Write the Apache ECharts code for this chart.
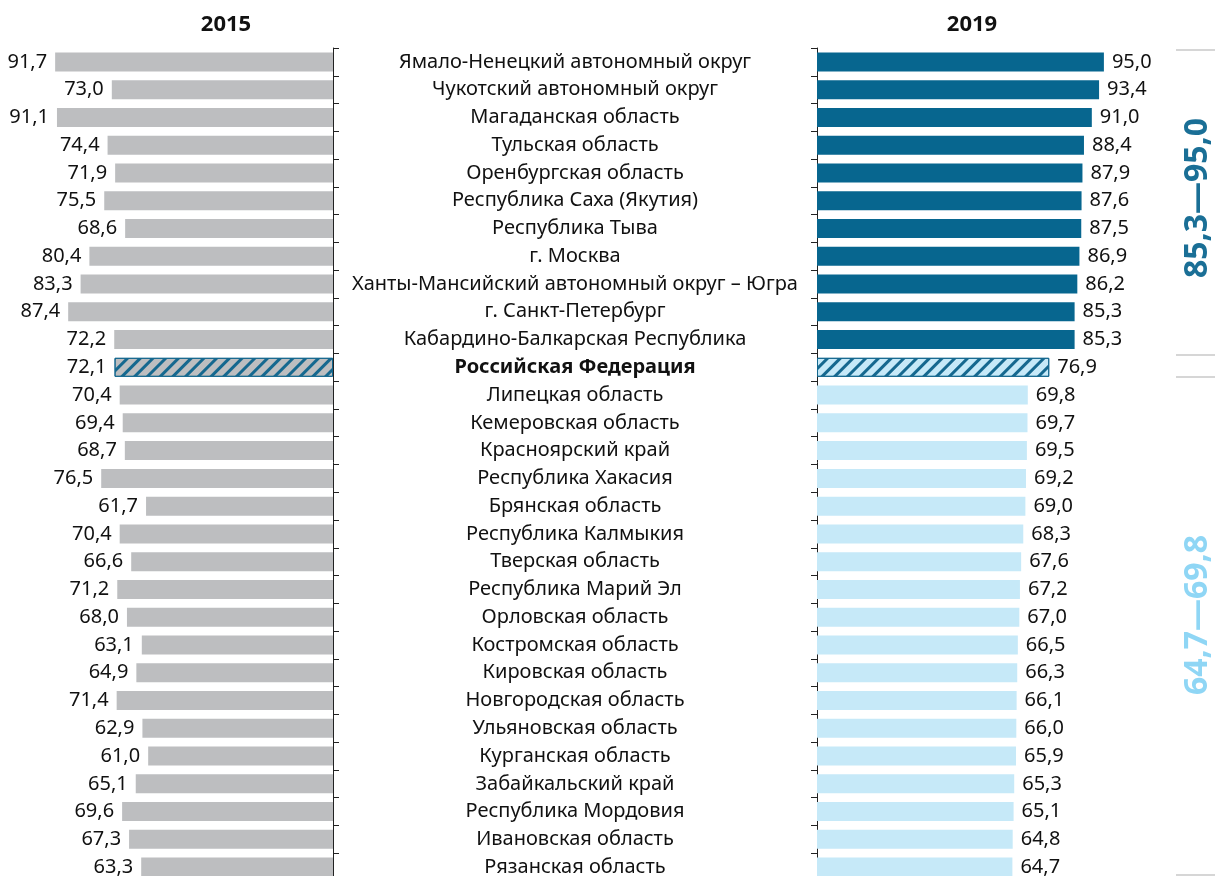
<!DOCTYPE html>
<html><head><meta charset="utf-8">
<script src="https://cdn.jsdelivr.net/npm/echarts@6/dist/echarts.min.js"></script>
<style>html,body{margin:0;padding:0;background:#fff}#c{width:1215px;height:876px}</style>
</head><body><div id="c"></div>
<script>
const regions = ["Ямало-Ненецкий автономный округ","Чукотский автономный округ","Магаданская область","Тульская область","Оренбургская область","Республика Саха (Якутия)","Республика Тыва","г. Москва","Ханты-Мансийский автономный округ – Югра","г. Санкт-Петербург","Кабардино-Балкарская Республика","Российская Федерация","Липецкая область","Кемеровская область","Красноярский край","Республика Хакасия","Брянская область","Республика Калмыкия","Тверская область","Республика Марий Эл","Орловская область","Костромская область","Кировская область","Новгородская область","Ульяновская область","Курганская область","Забайкальский край","Республика Мордовия","Ивановская область","Рязанская область"];
const values2015 = [91.7,73.0,91.1,74.4,71.9,75.5,68.6,80.4,83.3,87.4,72.2,72.1,70.4,69.4,68.7,76.5,61.7,70.4,66.6,71.2,68.0,63.1,64.9,71.4,62.9,61.0,65.1,69.6,67.3,63.3];
const values2019 = [95.0,93.4,91.0,88.4,87.9,87.6,87.5,86.9,86.2,85.3,85.3,76.9,69.8,69.7,69.5,69.2,69.0,68.3,67.6,67.2,67.0,66.5,66.3,66.1,66.0,65.9,65.3,65.1,64.8,64.7];
const years = ["2015","2019"];
const rangeLabels = ["85,3—95,0","64,7—69,8"];
const totalName = "Российская Федерация";

const FONT = "Noto Sans";
const FS = 20;
const GRAY = "#bdbec0", DARK = "#07668f", LIGHT = "#c6e9f8", STRIPE = "#15688f";
const fmt = v => v.toFixed(1).replace('.', ',');
const decal = {symbol:'rect', symbolSize:1, dashArrayX:[1,0], dashArrayY:[3,6], rotation:-Math.PI/4, color:STRIPE};

const leftData = values2015.map((v,i)=> regions[i]===totalName
  ? {value:v, itemStyle:{color:GRAY, borderColor:STRIPE, borderWidth:1, decal:decal}}
  : {value:v});
const rightData = values2019.map((v,i)=>{
  if (regions[i]===totalName) return {value:v, itemStyle:{color:LIGHT, borderColor:STRIPE, borderWidth:1, decal:decal}};
  return {value:v, itemStyle:{color: i<regions.indexOf(totalName) ? DARK : LIGHT}};
});

const chart = echarts.init(document.getElementById('c'), null, {renderer:'canvas'});
const axisLine = {show:true, lineStyle:{color:'#222', width:1}};
const axisTick = {show:true, length:6, lineStyle:{color:'#222', width:1}};
chart.setOption({
  animation:false,
  aria:{enabled:false, decal:{show:false}},
  title:[
    {text:years[0], left:221, top:9, textAlign:'center', textStyle:{fontFamily:FONT, fontSize:22, fontWeight:'bold', color:'#111'}},
    {text:years[1], left:967, top:9, textAlign:'center', textStyle:{fontFamily:FONT, fontSize:22, fontWeight:'bold', color:'#111'}}
  ],
  grid:[
    {left:30, width:303, top:48, height:833, outerBoundsMode:'none', containLabel:false},
    {left:817, width:302, top:48, height:833, outerBoundsMode:'none', containLabel:false}
  ],
  xAxis:[
    {gridIndex:0, type:'value', min:0, max:100, inverse:true, show:false},
    {gridIndex:1, type:'value', min:0, max:100, show:false}
  ],
  yAxis:[
    {gridIndex:0, type:'category', data:regions, inverse:true, position:'right',
     axisLine:axisLine, axisTick:axisTick, axisLabel:{show:false}, splitLine:{show:false}},
    {gridIndex:1, type:'category', data:regions, inverse:true, position:'left',
     axisLine:axisLine, axisTick:axisTick, splitLine:{show:false},
     axisLabel:{show:true, margin:242, align:'center', fontFamily:FONT, fontSize:FS, color:'#111',
       formatter: v => v===totalName ? '{b|'+v+'}' : v,
       rich:{b:{fontFamily:FONT, fontSize:FS, fontWeight:'bold', color:'#111'}}}}
  ],
  series:[
    {type:'bar', xAxisIndex:0, yAxisIndex:0, data:leftData, barWidth:19, itemStyle:{color:GRAY},
     label:{show:true, position:'left', distance:8, fontFamily:FONT, fontSize:FS, color:'#111', formatter:p=>fmt(p.value)}},
    {type:'bar', xAxisIndex:1, yAxisIndex:1, data:rightData, barWidth:19,
     label:{show:true, position:'right', distance:8, fontFamily:FONT, fontSize:FS, color:'#111', formatter:p=>fmt(p.value)}}
  ],
  graphic:[
    {type:'line', shape:{x1:1176,y1:50,x2:1215,y2:50}, style:{stroke:'#c8c8c8', lineWidth:1.5}},
    {type:'line', shape:{x1:1176,y1:355,x2:1215,y2:355}, style:{stroke:'#c8c8c8', lineWidth:1.5}},
    {type:'line', shape:{x1:1176,y1:377,x2:1215,y2:377}, style:{stroke:'#c8c8c8', lineWidth:1.5}},
    {type:'line', shape:{x1:1176,y1:875,x2:1215,y2:875}, style:{stroke:'#c8c8c8', lineWidth:1.5}},
    {type:'text', x:1198, y:198, rotation:Math.PI/2, style:{text:rangeLabels[0], fill:'#1a6f96', font:'bold 32px "Noto Sans"', align:'center', verticalAlign:'middle'}},
    {type:'text', x:1198, y:615, rotation:Math.PI/2, style:{text:rangeLabels[1], fill:'#8fd6f5', font:'bold 32px "Noto Sans"', align:'center', verticalAlign:'middle'}}
  ]
});
</script></body></html>
